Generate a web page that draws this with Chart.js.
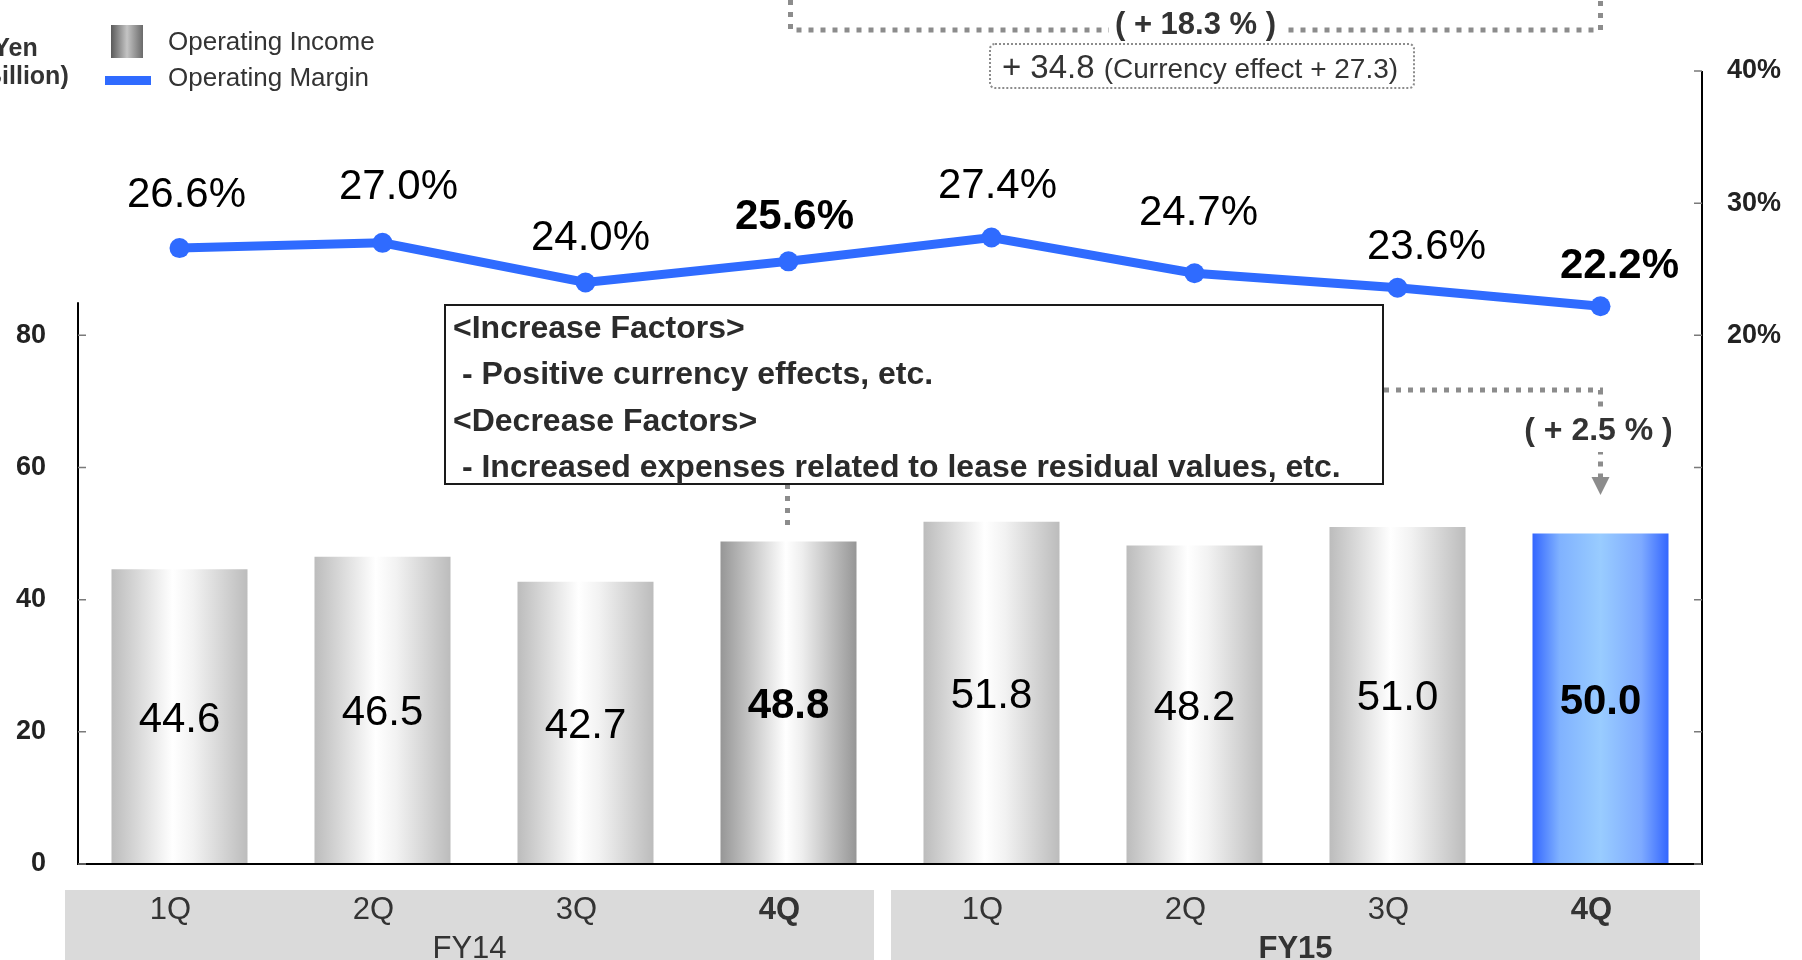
<!DOCTYPE html>
<html>
<head>
<meta charset="utf-8">
<script src="https://cdn.jsdelivr.net/npm/chart.js@4.4.1/dist/chart.umd.min.js"></script>
<style>
  html, body { margin: 0; padding: 0; background: #fff; }
  #wrap { width: 1802px; height: 960px; position: relative; overflow: hidden; }
</style>
</head>
<body>
<div id="wrap"><canvas id="opChart" width="1802" height="960"></canvas></div>
<script>
// chart values
const quarters = ['1Q', '2Q', '3Q', '4Q', '1Q', '2Q', '3Q', '4Q'];
const fiscalYears = ['FY14', 'FY15'];
const operatingIncome = [44.6, 46.5, 42.7, 48.8, 51.8, 48.2, 51.0, 50.0];
const operatingMargin = [26.6, 27.0, 24.0, 25.6, 27.4, 24.7, 23.6, 22.2];
const incomeTicks = [0, 20, 40, 60, 80];
const marginTicks = [20, 30, 40];
const highlight = [3, 7]; // 4Q columns are bold

// texts
const legendLabels = ['Operating Income', 'Operating Margin'];
const unitLabel = ['(Yen', 'Billion)'];
const factorLines = ['<Increase Factors>', ' - Positive currency effects, etc.', '<Decrease Factors>', ' - Increased expenses related to lease residual values, etc.'];
const yearChange = '( + 18.3 % )';
const yearChangeAmount = ['+ 34.8 ', '(Currency effect + 27.3)'];
const quarterChange = '( + 2.5 % )';

// label nudges [dx, dy above point] for margin labels
const marginLabelNudge = [[7, 41], [16, 44], [5, 32], [6, 32], [6, 40], [4, 48], [29, 29], [19, 28]];

const FONT = '"Liberation Sans", Arial, Helvetica, sans-serif';
const BAR_PCT = 0.67;
const BLUE = '#2F6BFF';
const DOT = '#8c8c8c';

const greyStops = [[0, '#bcbcbc'], [0.45, '#ffffff'], [0.6, '#f2f2f2'], [1, '#bcbcbc']];
const darkStops = [[0, '#969696'], [0.48, '#ffffff'], [0.6, '#eeeeee'], [1, '#969696']];
const blueStops = [[0, '#3366ff'], [0.2, '#80b2ff'], [0.5, '#99ccff'], [0.8, '#7eaaff'], [1, '#3366ff']];

function font(size, bold) { return (bold ? 'bold ' : '') + size + 'px ' + FONT; }

function barFill(ctx) {
    const chart = ctx.chart;
    const xs = chart.scales.x;
    if (!chart.chartArea || !xs || ctx.dataIndex === undefined) return '#c0c0c0';
    const i = ctx.dataIndex;
    const cx = xs.getPixelForValue(i);
    const half = (xs.width / quarters.length) * BAR_PCT / 2;
    const g = chart.ctx.createLinearGradient(cx - half, 0, cx + half, 0);
    const stops = i === 7 ? blueStops : i === 3 ? darkStops : greyStops;
    stops.forEach(([o, c]) => g.addColorStop(o, c));
    return g;
}

function dotted(c, pts, w) {
    c.save();
    c.strokeStyle = DOT;
    c.lineWidth = w || 5;
    c.setLineDash([5, 7]);
    c.beginPath();
    pts.forEach(([x, y], k) => k ? c.lineTo(x, y) : c.moveTo(x, y));
    c.stroke();
    c.restore();
}

function bandSpan(xs, g) {
    const cw = xs.width / quarters.length;
    const l = xs.left + g * 4 * cw, r = l + 4 * cw;
    return g === 0 ? [l - 13, r - 16] : [l + 1, r - 2];
}

const decor = {
    id: 'decor',
    beforeDraw(chart) {
        const c = chart.ctx, xs = chart.scales.x;
        c.save();
        c.fillStyle = '#dadada';
        fiscalYears.forEach((fy, g) => {
            const [l, r] = bandSpan(xs, g);
            c.fillRect(l, 890, r - l, 70);
        });
        c.restore();
    },
    afterDraw(chart) {
        const c = chart.ctx, xs = chart.scales.x, yl = chart.scales.y, yr = chart.scales.y1, a = chart.chartArea;
        c.save();

        // axis lines
        c.strokeStyle = '#000';
        c.lineWidth = 2;
        c.beginPath();
        c.moveTo(a.left, yl.getPixelForValue(85));
        c.lineTo(a.left, a.bottom);
        c.lineTo(a.right, a.bottom);
        c.lineTo(a.right, a.top);
        c.stroke();

        // inward tick marks
        c.strokeStyle = '#7a7a7a';
        c.lineWidth = 1.5;
        c.beginPath();
        incomeTicks.forEach(v => { const y = yl.getPixelForValue(v); c.moveTo(a.left, y); c.lineTo(a.left + 8, y); });
        yr.ticks.forEach(t => { const y = yr.getPixelForValue(t.value); c.moveTo(a.right - 8, y); c.lineTo(a.right, y); });
        c.stroke();

        // value labels
        c.fillStyle = '#000';
        c.textAlign = 'center';
        c.textBaseline = 'alphabetic';
        chart.getDatasetMeta(0).data.forEach((b, i) => {
            c.font = font(42, highlight.includes(i));
            c.fillText(operatingIncome[i].toFixed(1), b.x, (b.y + b.base) / 2 + 15);
        });
        chart.getDatasetMeta(1).data.forEach((p, i) => {
            const [dx, dy] = marginLabelNudge[i];
            c.font = font(42, highlight.includes(i));
            c.fillText(operatingMargin[i].toFixed(1) + '%', p.x + dx, p.y - dy);
        });

        // fiscal year labels
        c.fillStyle = '#333';
        fiscalYears.forEach((fy, g) => {
            const [l, r] = bandSpan(xs, g);
            c.font = font(31, g === 1);
            c.fillText(fy, (l + r) / 2, 958);
        });

        // year-on-year bracket
        const x14 = xs.getPixelForValue(3) + 2, x15 = xs.getPixelForValue(7);
        dotted(c, [[x14, 0], [x14, 30], [x15, 30], [x15, 0]]);
        const cx = (x14 + x15) / 2;
        c.font = font(31, true);
        const w1 = c.measureText(yearChange).width;
        c.fillStyle = '#fff';
        c.fillRect(cx - w1 / 2 - 6, 4, w1 + 12, 42);
        c.fillStyle = '#333';
        c.fillText(yearChange, cx, 34);

        // currency effect box
        c.save();
        c.strokeStyle = DOT;
        c.lineWidth = 2;
        c.setLineDash([2, 2]);
        c.beginPath();
        c.roundRect(990, 44, 424, 44, 5);
        c.stroke();
        c.restore();
        c.textAlign = 'left';
        c.fillStyle = '#333';
        c.font = font(33);
        const wa = c.measureText(yearChangeAmount[0]).width;
        c.font = font(28);
        const wb = c.measureText(yearChangeAmount[1]).width;
        const tx = 1200 - (wa + wb) / 2;
        c.font = font(33);
        c.fillText(yearChangeAmount[0], tx, 78);
        c.font = font(28);
        c.fillText(yearChangeAmount[1], tx + wa, 78);

        // factors box
        const x3 = xs.getPixelForValue(3) - 1;
        dotted(c, [[x3, 484], [x3, 527]]);
        c.fillStyle = '#fff';
        c.fillRect(445, 305, 938, 179);
        c.strokeStyle = '#1a1a1a';
        c.lineWidth = 2;
        c.strokeRect(445, 305, 938, 179);
        c.fillStyle = '#2b2b2b';
        c.font = font(32, true);
        factorLines.forEach((t, k) => c.fillText(t, 453, 338 + k * 46.3));

        // quarter bracket with arrow
        const bx = xs.getPixelForValue(7);
        dotted(c, [[1384, 390], [bx, 390], [bx, 477]]);
        c.fillStyle = DOT;
        c.beginPath();
        c.moveTo(bx - 9, 477); c.lineTo(bx + 9, 477); c.lineTo(bx, 495);
        c.closePath();
        c.fill();
        c.font = font(32, true);
        c.textAlign = 'center';
        const w2 = c.measureText(quarterChange).width;
        c.fillStyle = '#fff';
        c.fillRect(bx - w2 / 2 - 4, 408, w2 + 8, 44);
        c.fillStyle = '#333';
        c.fillText(quarterChange, bx - 2, 440);

        // legend
        const sg = c.createLinearGradient(111, 0, 143, 0);
        sg.addColorStop(0, '#5a5a5a'); sg.addColorStop(0.5, '#c4c4c4'); sg.addColorStop(1, '#6a6a6a');
        c.fillStyle = sg;
        c.fillRect(111, 25, 32, 33);
        c.strokeStyle = BLUE;
        c.lineWidth = 9;
        c.beginPath();
        c.moveTo(105, 80.5); c.lineTo(151, 80.5);
        c.stroke();
        c.textAlign = 'left';
        c.fillStyle = '#333';
        c.font = font(26);
        c.fillText(legendLabels[0], 168, 50);
        c.fillText(legendLabels[1], 168, 86);

        // unit label (cut at the left edge)
        c.font = font(25, true);
        c.fillText(unitLabel[0], -15, 56);
        c.fillText(unitLabel[1], -16, 84);

        c.restore();
    }
};

new Chart(document.getElementById('opChart'), {
    type: 'bar',
    data: {
        labels: quarters,
        datasets: [
            {
                type: 'bar',
                label: legendLabels[0],
                data: operatingIncome,
                yAxisID: 'y',
                backgroundColor: barFill,
                borderWidth: 0,
                barPercentage: BAR_PCT,
                categoryPercentage: 1,
                order: 1,
            },
            {
                type: 'line',
                label: legendLabels[1],
                data: operatingMargin,
                yAxisID: 'y1',
                borderColor: BLUE,
                backgroundColor: BLUE,
                borderWidth: 9,
                pointRadius: 10,
                pointHoverRadius: 10,
                pointBackgroundColor: BLUE,
                pointBorderWidth: 0,
                tension: 0,
                order: 0,
            }
        ]
    },
    options: {
        responsive: false,
        animation: false,
        devicePixelRatio: 1,
        layout: { padding: { top: 71, left: 0, right: 0, bottom: 0 } },
        plugins: { legend: { display: false }, tooltip: { enabled: false } },
        scales: {
            x: {
                grid: { display: false, drawTicks: false },
                border: { display: false },
                ticks: {
                    color: '#333',
                    padding: 28,
                    labelOffset: -9,
                    autoSkip: false,
                    maxRotation: 0,
                    font: c => ({ family: FONT, size: 31, weight: highlight.includes(c.index) ? 'bold' : 'normal' }),
                },
                afterFit: s => { s.height = 96; }
            },
            y: {
                position: 'left',
                min: 0,
                max: 120,
                grid: { display: false, drawTicks: false },
                border: { display: false },
                ticks: {
                    stepSize: 20,
                    padding: 32,
                    color: '#222',
                    font: { family: FONT, size: 27, weight: 'bold' },
                    callback: v => incomeTicks.includes(v) ? v : '',
                },
                afterFit: s => { s.width = 78; }
            },
            y1: {
                position: 'right',
                min: -20,
                max: 40,
                grid: { display: false, drawTicks: false },
                border: { display: false },
                ticks: {
                    stepSize: 10,
                    padding: 25,
                    color: '#222',
                    font: { family: FONT, size: 27, weight: 'bold' },
                    callback: v => marginTicks.includes(v) ? v + '%' : '',
                },
                afterFit: s => { s.width = 100; }
            }
        }
    },
    plugins: [decor]
});
</script>
</body>
</html>
